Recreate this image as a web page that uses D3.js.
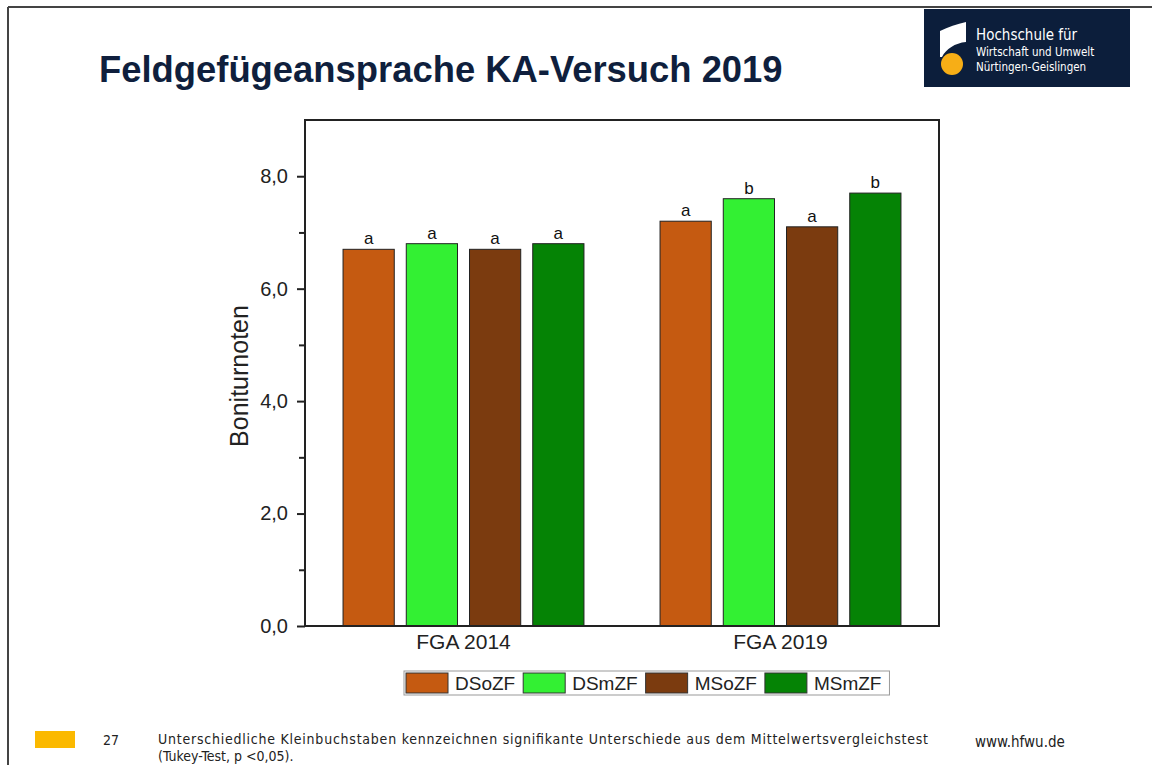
<!DOCTYPE html>
<html>
<head>
<meta charset="utf-8">
<script src="https://cdn.jsdelivr.net/npm/d3@7"></script>
<style>
  body { margin: 0; background: #fff; }
  svg { display: block; font-family: "Liberation Sans", Arial, sans-serif; }
  .narrow { font-family: "Liberation Sans Narrow", "DejaVu Sans Condensed", "Liberation Sans", sans-serif; font-stretch: condensed; }
</style>
</head>
<body>
<svg id="chart" width="1152" height="765"></svg>
<script>
// data
var groups = ["FGA 2014", "FGA 2019"];
var series = ["DSoZF", "DSmZF", "MSoZF", "MSmZF"];
var values2014 = [6.7, 6.8, 6.7, 6.8];
var values2019 = [7.2, 7.6, 7.1, 7.7];
var letters2014 = ["a", "a", "a", "a"];
var letters2019 = ["a", "b", "a", "b"];
var yTicks = [0, 1, 2, 3, 4, 5, 6, 7, 8];
var colors = ["#c55a11", "#33f033", "#7b3b0f", "#058305"];

var svg = d3.select("#chart");

// slide frame
svg.append("line").attr("x1", 8).attr("y1", 7).attr("x2", 1152).attr("y2", 7)
    .attr("stroke", "#444").attr("stroke-width", 2);
svg.append("line").attr("x1", 8).attr("y1", 7).attr("x2", 8).attr("y2", 765)
    .attr("stroke", "#444").attr("stroke-width", 2);

// title
svg.append("text")
    .attr("x", 99).attr("y", 82)
    .attr("font-size", 36.4).attr("font-weight", "bold")
    .attr("fill", "#0f1f3d")
    .text("Feldgefügeansprache KA-Versuch 2019");

// logo
var logo = svg.append("g");
logo.append("rect").attr("x", 924).attr("y", 9).attr("width", 206).attr("height", 78).attr("fill", "#0c1e3b");
logo.append("path")
    .attr("d", "M940,31 C948,27 957,24 966,22 L966,42 C955,43 946,49 942,57 L940,57 Z")
    .attr("fill", "#fff");
logo.append("circle").attr("cx", 952).attr("cy", 64).attr("r", 11).attr("fill", "#f7ae16");
logo.append("text").attr("class", "narrow").attr("x", 976).attr("y", 40)
    .attr("font-size", 15).attr("fill", "#fff").text("Hochschule für");
logo.append("text").attr("class", "narrow").attr("x", 976).attr("y", 56)
    .attr("font-size", 11.5).attr("fill", "#fff").text("Wirtschaft und Umwelt");
logo.append("text").attr("class", "narrow").attr("x", 976).attr("y", 71)
    .attr("font-size", 11.5).attr("fill", "#fff").text("Nürtingen-Geislingen");

// plot area
var plotL = 305, plotR = 939, plotT = 120, plotB = 626;

var x0 = d3.scaleBand().domain(groups).range([plotL, plotR])
    .paddingInner(0.24).paddingOuter(0.12);
var x1 = d3.scaleBand().domain(series).range([0, x0.bandwidth()]).paddingInner(0.19);
var y = d3.scaleLinear().domain([0, 9]).range([plotB, plotT]);

var data = [values2014, values2019];
var lettersAll = [letters2014, letters2019];

var g = svg.append("g");
groups.forEach(function (grp, gi) {
    var gg = g.append("g").attr("transform", "translate(" + x0(grp) + ",0)");
    gg.selectAll("rect")
        .data(series)
        .enter().append("rect")
        .attr("x", function (s) { return x1(s); })
        .attr("y", function (s, i) { return y(data[gi][i]); })
        .attr("width", x1.bandwidth())
        .attr("height", function (s, i) { return y(0) - y(data[gi][i]); })
        .attr("fill", function (s, i) { return colors[i]; })
        .attr("stroke", "#222").attr("stroke-width", 1);
    gg.selectAll("text.sig")
        .data(series)
        .enter().append("text")
        .attr("class", "sig")
        .attr("x", function (s) { return x1(s) + x1.bandwidth() / 2; })
        .attr("y", function (s, i) { return y(data[gi][i]) - 5; })
        .attr("text-anchor", "middle")
        .attr("font-size", 17).attr("fill", "#111")
        .text(function (s, i) { return lettersAll[gi][i]; });
});

// frame
svg.append("rect").attr("x", plotL).attr("y", plotT)
    .attr("width", plotR - plotL).attr("height", plotB - plotT)
    .attr("fill", "none").attr("stroke", "#222").attr("stroke-width", 2);

// y axis
var yAxis = svg.append("g").attr("transform", "translate(" + plotL + ",0)")
    .call(d3.axisLeft(y).tickValues(yTicks).tickSize(8).tickPadding(9)
        .tickFormat(function (d) { return d % 2 === 0 ? d3.format(".1f")(d).replace(".", ",") : ""; }));
yAxis.select(".domain").remove();
yAxis.selectAll(".tick line").attr("stroke", "#222").attr("stroke-width", 2)
    .attr("x2", function (d) { return d % 2 === 0 ? -8 : -6; });
yAxis.selectAll(".tick text").attr("font-size", 20).attr("fill", "#222")
    .attr("font-family", "Liberation Sans, Arial, sans-serif");

// x axis labels
var xAxis = svg.append("g").attr("transform", "translate(0," + plotB + ")")
    .call(d3.axisBottom(x0).tickSize(0).tickPadding(8));
xAxis.select(".domain").remove();
xAxis.selectAll(".tick text").attr("font-size", 21).attr("fill", "#222")
    .attr("font-family", "Liberation Sans, Arial, sans-serif");

// y label
svg.append("text")
    .attr("transform", "translate(248,376) rotate(-90)")
    .attr("text-anchor", "middle")
    .attr("font-size", 25).attr("fill", "#222")
    .text("Boniturnoten");

// legend
var legend = svg.append("g");
var lx = 406, ly = 673, sw = 42, sh = 20;
var pos = lx;
series.forEach(function (s, i) {
    legend.append("rect").attr("x", pos).attr("y", ly).attr("width", sw).attr("height", sh)
        .attr("fill", colors[i]).attr("stroke", "#333").attr("stroke-width", 1);
    var t = legend.append("text").attr("x", pos + sw + 7).attr("y", ly + 17)
        .attr("font-size", 19).attr("fill", "#222").text(s);
    pos += sw + 7 + t.node().getComputedTextLength() + 8;
});
legend.insert("rect", ":first-child")
    .attr("x", lx - 2).attr("y", ly - 2).attr("width", pos - lx + 2).attr("height", sh + 4)
    .attr("fill", "#fff").attr("stroke", "#999").attr("stroke-width", 1);

// footer
svg.append("rect").attr("x", 35).attr("y", 731).attr("width", 40).attr("height", 17).attr("fill", "#fbb900");
svg.append("text").attr("class", "narrow").attr("x", 103).attr("y", 745)
    .attr("font-size", 14).attr("fill", "#222").text("27");
svg.append("text").attr("class", "narrow").attr("x", 158).attr("y", 744)
    .attr("font-size", 14).attr("fill", "#222")
    .attr("textLength", 770).attr("lengthAdjust", "spacing")
    .text("Unterschiedliche Kleinbuchstaben kennzeichnen signifikante Unterschiede aus dem Mittelwertsvergleichstest");
svg.append("text").attr("class", "narrow").attr("x", 158).attr("y", 761)
    .attr("font-size", 14).attr("fill", "#222").text("(Tukey-Test, p <0,05).");
svg.append("text").attr("class", "narrow").attr("x", 975).attr("y", 747)
    .attr("font-size", 15).attr("fill", "#222").text("www.hfwu.de");
</script>
</body>
</html>
